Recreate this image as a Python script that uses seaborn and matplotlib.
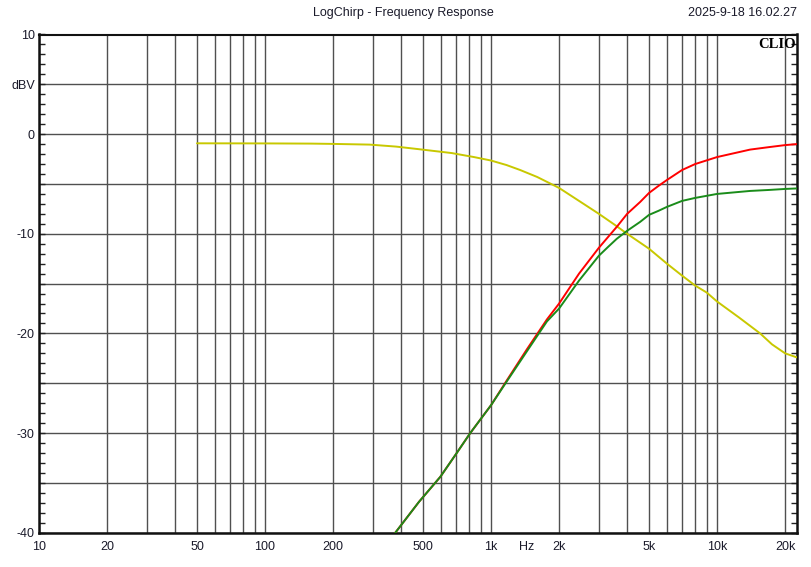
import matplotlib
matplotlib.use("Agg")
import matplotlib.pyplot as plt
import matplotlib.ticker as mticker
import pandas as pd
import seaborn as sns

# values (Hz, dBV)
low_freq = [50, 100, 160, 200, 290, 380, 475, 670, 840, 1000, 1170, 1345, 1600,
            2000, 2450, 3000, 3500, 4000, 5000, 6000, 7000, 8000, 9000, 10000,
            12500, 15500, 17500, 20000, 22500]
low_db = [-0.92, -0.93, -0.95, -0.98, -1.05, -1.25, -1.5, -1.9, -2.3, -2.65, -3.1, -3.6, -4.3,
          -5.4, -6.7, -8.0, -9.05, -10.0, -11.5, -13.0, -14.2, -15.2, -15.9, -16.8,
          -18.4, -20.0, -21.1, -22.0, -22.4]

high_freq = [350, 377, 480, 596, 700, 809, 1000, 1175, 1440, 1766, 2000, 2450, 3000,
             3300, 3600, 4000, 4570, 5000, 5500, 6000, 7000, 8000, 10000, 14000,
             17000, 20000, 22500]
red_db = [-41.0, -40.0, -36.9, -34.4, -32.1, -30.0, -27.2, -24.7, -21.6, -18.6, -17.0, -14.0,
          -11.4, -10.3, -9.3, -8.0, -6.8, -5.9, -5.2, -4.6, -3.6, -3.0, -2.3, -1.55,
          -1.3, -1.1, -1.0]
green_db = [-41.0, -40.0, -36.9, -34.4, -32.1, -30.0, -27.2, -24.8, -21.8, -18.8, -17.5, -14.7,
            -12.2, -11.3, -10.5, -9.7, -8.8, -8.1, -7.7, -7.3, -6.7, -6.4, -6.0, -5.7,
            -5.6, -5.5, -5.45]

x_labels = {10: "10", 20: "20", 50: "50", 100: "100", 200: "200", 500: "500",
            1000: "1k", 2000: "2k", 5000: "5k", 10000: "10k", 20000: "20k"}
y_labels = {10: "10", 5: "dBV", 0: "0", -5: "", -10: "-10", -15: "", -20: "-20",
            -25: "", -30: "-30", -35: "", -40: "-40"}


def build_frame() -> pd.DataFrame:
    parts = [
        pd.DataFrame({"freq": low_freq, "db": low_db, "trace": "low"}),
        pd.DataFrame({"freq": high_freq, "db": red_db, "trace": "red"}),
        pd.DataFrame({"freq": high_freq, "db": green_db, "trace": "green"}),
    ]
    return pd.concat(parts, ignore_index=True)


def main():
    sns.set_style("white")
    plt.rcParams["font.family"] = ["Liberation Sans Narrow", "Liberation Sans", "DejaVu Sans"]
    plt.rcParams["font.size"] = 9

    df = build_frame()
    fig = plt.figure(figsize=(8.12, 5.67), dpi=100)
    ax = fig.add_axes([39 / 812, 1 - 532.7 / 567, (796.7 - 39) / 812, (532.7 - 34.5) / 567])

    palette = {"low": "#c8c800", "red": "#ff0000", "green": "#1a8c1a"}
    sns.lineplot(data=df, x="freq", y="db", hue="trace", palette=palette,
                 estimator=None, sort=False, lw=1.4, legend=False, ax=ax, zorder=3)

    ax.set_xscale("log")
    ax.set_xlim(10, 22500)
    ax.set_ylim(-40, 10)

    # grid: every decade step on x, every 5 dB on y
    minor_x = [m * 10 ** d for d in range(1, 5) for m in range(1, 10)
               if m * 10 ** d not in x_labels and m * 10 ** d < 22500]
    ax.set_xticks(list(x_labels.keys()))
    ax.set_xticklabels(list(x_labels.values()))
    ax.xaxis.set_minor_locator(mticker.FixedLocator(minor_x))
    ax.xaxis.set_minor_formatter(mticker.NullFormatter())
    ax.set_yticks(list(y_labels.keys()))
    ax.set_yticklabels(list(y_labels.values()))
    ax.yaxis.set_minor_locator(mticker.MultipleLocator(1))

    ax.grid(True, which="major", color="#505050", lw=1.0)
    ax.grid(True, which="minor", axis="x", color="#505050", lw=1.0)
    ax.tick_params(axis="x", which="both", length=0, pad=6, labelcolor="#1a1a2a")
    ax.tick_params(axis="y", which="both", direction="in", left=True, right=True,
                   length=4, width=1, color="#222222", pad=3, labelcolor="#1a1a2a")

    for side, lw in {"left": 1.8, "bottom": 1.8, "right": 1.8, "top": 1.5}.items():
        ax.spines[side].set_visible(True)
        ax.spines[side].set_color("#111111")
        ax.spines[side].set_linewidth(lw)

    ax.set_xlabel("")
    ax.set_ylabel("")
    ax.text(1430, -0.0165, "Hz", transform=ax.get_xaxis_transform(),
            ha="center", va="top", fontsize=9, color="#1a1a2a")
    ax.text(0.9995, 0.992, "CLIO", transform=ax.transAxes, ha="right", va="top",
            fontsize=10.5, fontweight="bold", color="black",
            family=["Liberation Serif", "DejaVu Serif"])

    fig.text(403 / 812, 1 - 13 / 567, "LogChirp - Frequency Response",
             ha="center", va="center", fontsize=9, color="#1a1a2a")
    fig.text(797 / 812, 1 - 13 / 567, "2025-9-18 16.02.27",
             ha="right", va="center", fontsize=9, color="#1a1a2a")

    fig.savefig("out.png", dpi=100)


if __name__ == "__main__":
    main()
